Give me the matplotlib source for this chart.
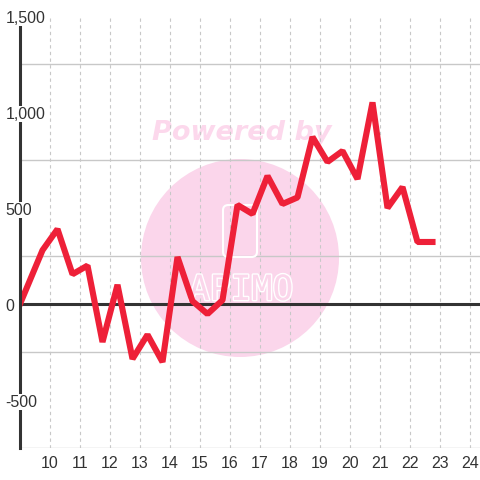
#! /usr/bin/env python3
"""Line chart of a value through the day, with a pale watermark behind it."""

import matplotlib

matplotlib.use("Agg")
import matplotlib.patheffects as pe
import matplotlib.pyplot as plt
from matplotlib.patches import Ellipse, FancyBboxPatch
from matplotlib.ticker import FuncFormatter
from matplotlib.transforms import offset_copy

hours = [9.0, 9.75, 10.25, 10.75, 11.25, 11.75, 12.25, 12.75, 13.25, 13.75,
         14.25, 14.75, 15.25, 15.75, 16.25, 16.75, 17.25, 17.75, 18.25, 18.75,
         19.25, 19.75, 20.25, 20.75, 21.25, 21.75, 22.25, 22.75]
values = [0, 280, 390, 155, 200, -198, 100, -286, -160, -302,
          245, 15, -52, 20, 516, 469, 667, 521, 555, 870,
          740, 797, 651, 1050, 500, 609, 323, 323]
x_ticks = list(range(10, 25))
y_ticks = [-500, 0, 500, 1000, 1500]

plt.rcParams["font.family"] = ["Liberation Sans", "DejaVu Sans"]

W, H = 480, 480
fig = plt.figure(figsize=(4.8, 4.8), dpi=100)
ax = fig.add_axes([20 / W, 32 / H, 460 / W, 432 / H])
ax.set_xlim(9, 24 + 1 / 3)
ax.set_ylim(-750, 1500)


def px(x, y):
    """pixel position (from top-left) -> axes fraction"""
    return (x - 20) / 460, (448 - y) / 432


# watermark, under the grid
ax.add_patch(Ellipse(px(240, 258), 198 / 460, 198 / 432, transform=ax.transAxes,
                     color="#fbd6eb", lw=0, zorder=0))
ax.text(*px(242, 133), "Powered by", transform=ax.transAxes, ha="center", va="center",
        fontsize=19.5, fontweight="bold", style="italic", color="#fcd8ec",
        family="DejaVu Sans", zorder=0.5)
x0, y0 = px(223, 257)
x1, y1 = px(257, 205)
ax.add_patch(FancyBboxPatch((x0, y0), x1 - x0, y1 - y0, transform=ax.transAxes,
                            boxstyle="round,pad=0,rounding_size=0.012",
                            fill=False, ec="white", lw=1.5, zorder=0.6))
ax.text(*px(241, 290), "APIMO", transform=ax.transAxes, ha="center", va="center",
        fontsize=25, color="#fbd6eb", family="DejaVu Sans Mono", zorder=0.6,
        path_effects=[pe.withStroke(linewidth=2, foreground="white")])

ax.set_yticks(range(-750, 1501, 250), minor=True)
ax.grid(axis="y", which="minor", color="#c8c8c8", lw=1, ls="-", zorder=1)
ax.set_xticks(x_ticks)
ax.grid(axis="x", which="major", color="#c8c8c8", lw=0.8, ls=(0, (3, 3)), zorder=1)
ax.set_axisbelow(True)
ax.axhline(0, color="#333333", lw=2.2, zorder=2)

ax.plot(hours, values, color="#ee2038", lw=4.4, solid_joinstyle="bevel",
        solid_capstyle="projecting", zorder=3)

for s in ["top", "right", "bottom"]:
    ax.spines[s].set_visible(False)
ax.spines["left"].set_color("#333333")
ax.spines["left"].set_linewidth(2.2)
ax.spines["left"].set_zorder(4)

ax.tick_params(axis="both", which="both", length=0, colors="#333333", labelsize=11.5)
ax.tick_params(axis="x", pad=6)
ax.set_yticks(y_ticks)
ax.set_yticklabels([])
label_tr = offset_copy(ax.get_yaxis_transform(), fig=fig, x=0, y=-1.5, units="points")
for v in y_ticks:
    ax.text(-0.031, v, f"{v:,}", transform=label_tr, ha="left", va="center",
            fontsize=11.5, color="#333333", zorder=5,
            bbox=dict(facecolor="white", edgecolor="none", pad=0.5), clip_on=False)
ax.xaxis.set_major_formatter(FuncFormatter(lambda v, p: f"{int(v)}"))

fig.savefig("out.png", dpi=100)
